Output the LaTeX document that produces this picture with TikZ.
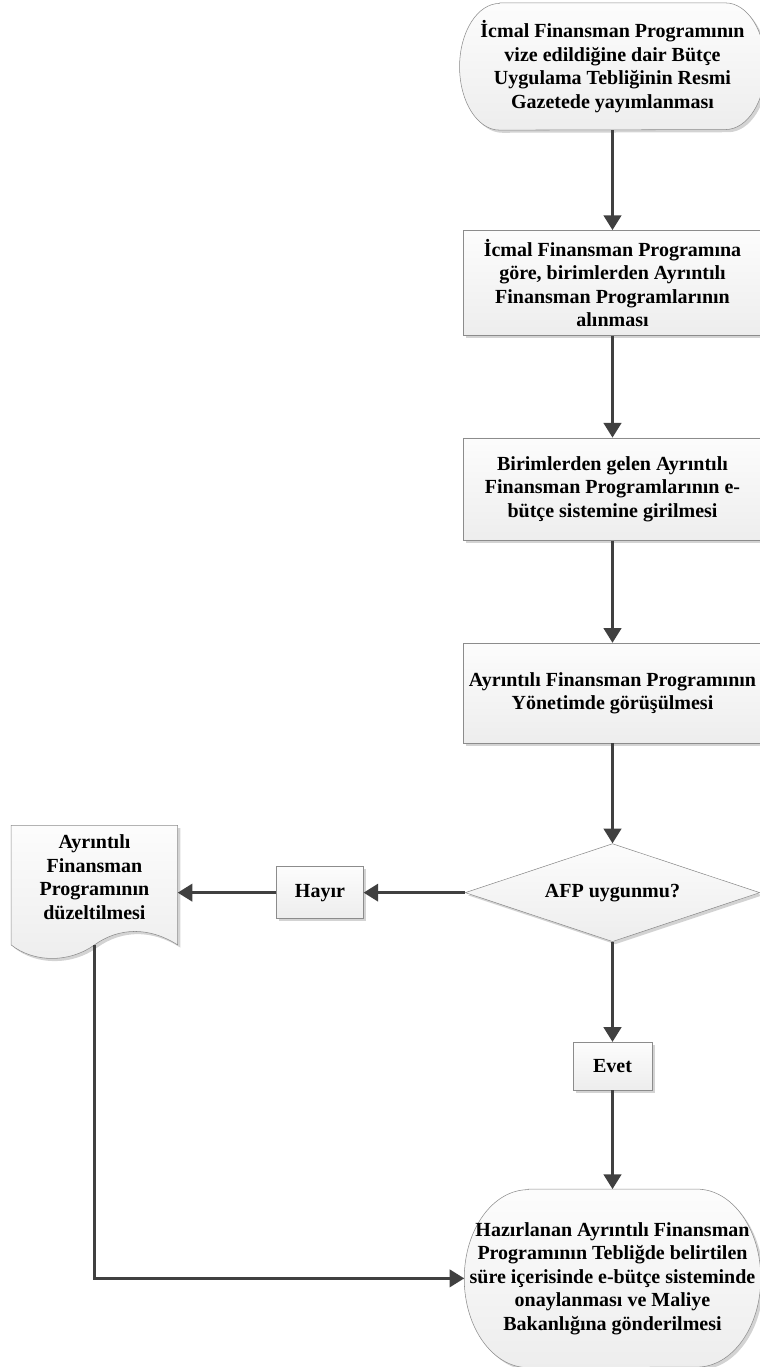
\documentclass[tikz,border=0pt]{standalone}
\usepackage{fontspec}
\setmainfont{Liberation Serif}
\usetikzlibrary{arrows.meta,positioning,calc,shapes.geometric,shadows,backgrounds}
\definecolor{lineclr}{HTML}{404040}
\definecolor{edgeclr}{HTML}{8C8C8C}

\begin{document}
\begin{tikzpicture}[x=0.75pt,y=0.75pt,>={Triangle[length=11pt,width=13pt]},
  txt/.style={font=\bfseries\fontsize{15}{17.6}\selectfont,align=center,inner sep=0pt},
  fillshade/.style={top color=gray!2,bottom color=gray!14,drop shadow={shadow xshift=2pt,shadow yshift=-2pt,opacity=0.35,fill=gray}},
  box/.style={txt,draw=edgeclr,fillshade,minimum width=224pt,minimum height=77pt},
  tag/.style={txt,draw=edgeclr,fillshade},
  term/.style={txt,minimum width=229pt,minimum height=95pt},
  termline/.style={draw=edgeclr,fillshade},
  dec/.style={txt,diamond,aspect=3,draw=edgeclr,fillshade,minimum width=221pt,minimum height=73.5pt},
  arr/.style={->,draw=lineclr,line width=2.25pt}]

\useasboundingbox (0,0) rectangle (760,-1367);

% main column
\node (start) [term] at (612.5,-66.5) {İcmal Finansman Programının\\vize edildiğine dair Bütçe\\Uygulama Tebliğinin Resmi\\Gazetede yayımlanması};
\node (collect) [box,minimum height=78.75pt,below=75pt of start] {İcmal Finansman Programına\\göre, birimlerden Ayrıntılı\\Finansman Programlarının\\alınması};
\node (enter) [box,below=76.5pt of collect] {Birimlerden gelen Ayrıntılı\\Finansman Programlarının e-\\bütçe sistemine girilmesi};
\node (review) [box,minimum height=75pt,below=76.5pt of enter] {Ayrıntılı Finansman Programının\\Yönetimde görüşülmesi};
\node (check) [dec,below=75pt of review] {AFP uygunmu?};
\node (yes) [tag,minimum width=59pt,minimum height=36pt,below=75pt of check] {Evet};
\node (finish) [txt,minimum width=222pt,minimum height=133.5pt,below=74pt of yes] {Hazırlanan Ayrıntılı Finansman\\Programının Tebliğde belirtilen\\süre içerisinde e-bütçe sisteminde\\onaylanması ve Maliye\\Bakanlığına gönderilmesi};

% left branch
\node (no) [tag,minimum width=65pt,minimum height=39pt,left=76pt of check] {Hayır};
\node (fix) [txt,minimum width=124.5pt,minimum height=101.25pt,left=74pt of no,yshift=11.6pt] {Ayrıntılı\\Finansman\\Programının\\düzeltilmesi};

% outlines of the terminators and the document
\begin{scope}[on background layer]
\path[termline] ([xshift=30pt]start.north west) -- ([xshift=-30pt]start.north east)
  arc[start angle=90,end angle=-90,x radius=30pt,y radius=47.5pt]
  -- ([xshift=30pt]start.south west)
  arc[start angle=270,end angle=90,x radius=30pt,y radius=47.5pt] -- cycle;
\path[termline] ([xshift=48pt]finish.north west) -- ([xshift=-48pt]finish.north east)
  arc[start angle=90,end angle=-90,x radius=48pt,y radius=66.75pt]
  -- ([xshift=48pt]finish.south west)
  arc[start angle=270,end angle=90,x radius=48pt,y radius=66.75pt] -- cycle;
\path[termline] ([yshift=-12pt]fix.north west) -- ([yshift=-12pt]fix.north east) -- (fix.south east)
  .. controls ([shift={(-21pt,13.5pt)}]fix.south east) and ([shift={(18.75pt,13.5pt)}]fix.south) .. (fix.south)
  .. controls ([shift={(-18.75pt,-13.5pt)}]fix.south) and ([shift={(17.25pt,-13.5pt)}]fix.south west) .. (fix.south west) -- cycle;
\end{scope}

\draw[arr] (start) -- (collect);
\draw[arr] (collect) -- (enter);
\draw[arr] (enter) -- (review);
\draw[arr] (review) -- (check);
\draw[arr] (check) -- (yes);
\draw[arr] (yes) -- (finish);
\draw[arr] (check) -- (no);
\draw[arr] (no.west) -- (no.west -| fix.east);
\draw[arr] (fix.south) |- (finish.west);
\end{tikzpicture}
\end{document}
